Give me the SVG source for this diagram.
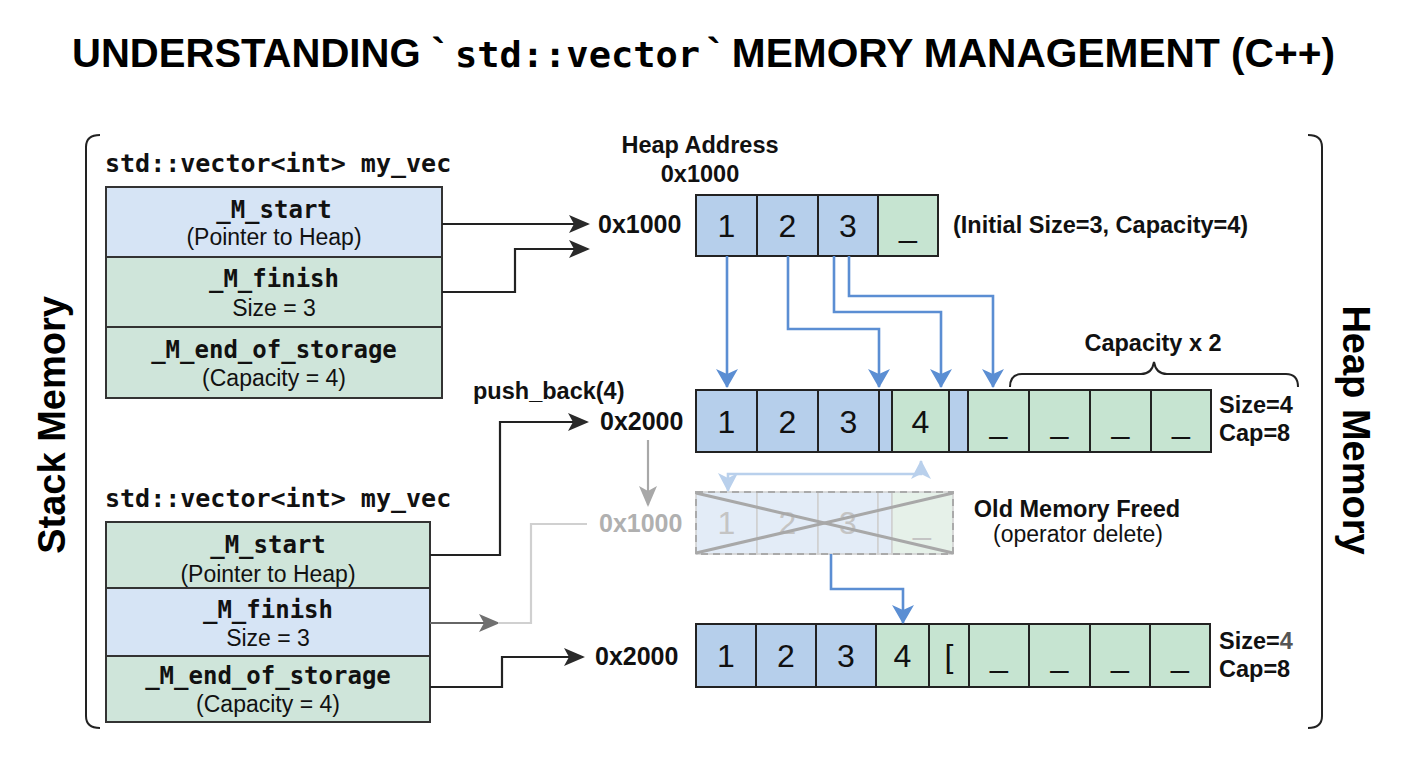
<svg xmlns="http://www.w3.org/2000/svg" width="1408" height="768" viewBox="0 0 1408 768">
<defs>
<style>
.sans{font-family:"Liberation Sans",Arial,sans-serif}
.b{font-family:"Liberation Sans",Arial,sans-serif;font-weight:bold}
.mono{font-family:"DejaVu Sans Mono","Liberation Mono",monospace;font-weight:bold}
.lbl{font-family:"Liberation Sans",Arial,sans-serif;font-weight:bold;font-size:23.5px;fill:#111}
.addr{font-family:"Liberation Sans",Arial,sans-serif;font-weight:bold;font-size:25px;fill:#111}
.fld{font-family:"DejaVu Sans Mono","Liberation Mono",monospace;font-weight:bold;font-size:24px;fill:#111;text-anchor:middle}
.sub{font-family:"Liberation Sans",Arial,sans-serif;font-size:23px;fill:#111;text-anchor:middle}
.num{font-family:"Liberation Sans",Arial,sans-serif;font-size:32px;fill:#111;text-anchor:middle}
.sblue{fill:#d6e4f5;stroke:#333;stroke-width:2}
.sgreen{fill:#cfe5da;stroke:#333;stroke-width:2}
.cb{fill:#b6cfeb;stroke:#222;stroke-width:2}
.cg{fill:#c6e4d1;stroke:#222;stroke-width:2}
.ob{fill:#e3ecf7;stroke:#d0d0d0;stroke-width:1.5}
.og{fill:#e6f1e9;stroke:#d0d0d0;stroke-width:1.5}
.blk{fill:none;stroke:#222;stroke-width:2.2}
.blue{fill:none;stroke:#5b8ed3;stroke-width:2.6}
</style>
<marker id="ahBlack" markerUnits="userSpaceOnUse" markerWidth="22" markerHeight="18" refX="19" refY="9" orient="auto"><path d="M0,0 L21,9 L0,18 L5,9 z" fill="#2a2a2a"/></marker>
<marker id="ahGray" markerUnits="userSpaceOnUse" markerWidth="22" markerHeight="18" refX="19" refY="9" orient="auto"><path d="M0,0 L21,9 L0,18 L5,9 z" fill="#707070"/></marker>
<marker id="ahLGray" markerUnits="userSpaceOnUse" markerWidth="22" markerHeight="18" refX="19" refY="9" orient="auto"><path d="M0,0 L21,9 L0,18 L5,9 z" fill="#a8a8a8"/></marker>
<marker id="ahBlue" markerUnits="userSpaceOnUse" markerWidth="20" markerHeight="22" refX="18" refY="11" orient="auto"><path d="M0,0 L19,11 L0,22 L5,11 z" fill="#5b8ed3"/></marker>
<marker id="ahLBlue" markerUnits="userSpaceOnUse" markerWidth="20" markerHeight="20" refX="18" refY="10" orient="auto-start-reverse"><path d="M0,0 L19,10 L0,20 L5,10 z" fill="#b9d0ec"/></marker>
</defs>
<rect width="1408" height="768" fill="#ffffff"/>

<g id="title">
<text class="b" x="72" y="67" font-size="40" textLength="373" lengthAdjust="spacingAndGlyphs" fill="#000">UNDERSTANDING `</text>
<text font-family="'DejaVu Sans Mono','Liberation Mono',monospace" font-weight="bold" x="455" y="67" font-size="36" textLength="245" lengthAdjust="spacingAndGlyphs" fill="#000">std::vector</text>
<text class="b" x="707" y="67" font-size="40" textLength="628" lengthAdjust="spacingAndGlyphs" fill="#000">` MEMORY MANAGEMENT (C++)</text>
</g>

<g id="stack-region">
<path d="M100,135 Q86,135 86,147 L86,716 Q86,728 100,728" fill="none" stroke="#222" stroke-width="2"/>
<text class="b" font-size="38" text-anchor="middle" transform="translate(65,425) rotate(-90)" fill="#000">Stack Memory</text>
</g>
<g id="heap-region">
<path d="M1308,135 Q1322,135 1322,147 L1322,716 Q1322,728 1308,728" fill="none" stroke="#222" stroke-width="2"/>
<text class="b" font-size="38" text-anchor="middle" transform="translate(1343,430) rotate(90)" fill="#000">Heap Memory</text>
</g>

<g id="vec-before">
<text class="mono" x="105" y="172" font-size="25" fill="#111">std::vector&lt;int&gt; my_vec</text>
<rect class="sblue" x="106" y="187" width="336" height="70"/>
<rect class="sgreen" x="106" y="257" width="336" height="70"/>
<rect class="sgreen" x="106" y="327" width="336" height="71"/>
<text class="fld" x="274" y="218">_M_start</text>
<text class="sub" x="274" y="245">(Pointer to Heap)</text>
<text class="fld" x="274" y="287">_M_finish</text>
<text class="sub" x="274" y="316">Size = 3</text>
<text class="fld" x="274" y="358">_M_end_of_storage</text>
<text class="sub" x="274" y="386">(Capacity = 4)</text>
</g>

<g id="vec-after">
<text class="mono" x="105" y="507" font-size="25" fill="#111">std::vector&lt;int&gt; my_vec</text>
<rect class="sgreen" x="106" y="522" width="324" height="66"/>
<rect class="sblue" x="106" y="588" width="324" height="68"/>
<rect class="sgreen" x="106" y="656" width="324" height="66"/>
<text class="fld" x="268" y="553">_M_start</text>
<text class="sub" x="268" y="582">(Pointer to Heap)</text>
<text class="fld" x="268" y="618">_M_finish</text>
<text class="sub" x="268" y="646">Size = 3</text>
<text class="fld" x="268" y="684">_M_end_of_storage</text>
<text class="sub" x="268" y="712">(Capacity = 4)</text>
</g>

<g id="heap-old-initial">
<text class="lbl" x="700" y="153" text-anchor="middle">Heap Address</text>
<text class="lbl" x="700" y="182" text-anchor="middle">0x1000</text>
<text class="addr" x="598" y="233">0x1000</text>
<rect class="cb" x="696" y="195" width="61" height="61"/>
<rect class="cb" x="757" y="195" width="61" height="61"/>
<rect class="cb" x="818" y="195" width="60" height="61"/>
<rect class="cg" x="878" y="195" width="60" height="61"/>
<text class="num" x="726.5" y="237">1</text>
<text class="num" x="787.5" y="237">2</text>
<text class="num" x="848" y="237">3</text>
<text class="num" x="908" y="237">_</text>
<text class="lbl" x="953" y="233">(Initial Size=3, Capacity=4)</text>
</g>

<g id="heap-new">
<text class="lbl" x="473" y="399">push_back(4)</text>
<text class="addr" x="600" y="430">0x2000</text>
<rect class="cb" x="696" y="390" width="61" height="62"/>
<rect class="cb" x="757" y="390" width="61" height="62"/>
<rect class="cb" x="818" y="390" width="61" height="62"/>
<rect class="cb" x="879" y="390" width="13" height="62"/>
<rect class="cg" x="892" y="390" width="57" height="62"/>
<rect class="cb" x="949" y="390" width="19" height="62"/>
<rect class="cg" x="968" y="390" width="61" height="62"/>
<rect class="cg" x="1029" y="390" width="61" height="62"/>
<rect class="cg" x="1090" y="390" width="61" height="62"/>
<rect class="cg" x="1151" y="390" width="60" height="62"/>
<text class="num" x="726.5" y="432.5">1</text>
<text class="num" x="787.5" y="432.5">2</text>
<text class="num" x="848.5" y="432.5">3</text>
<text class="num" x="920.5" y="432.5">4</text>
<text class="num" x="998.5" y="432.5">_</text>
<text class="num" x="1059.5" y="432.5">_</text>
<text class="num" x="1120.5" y="432.5">_</text>
<text class="num" x="1181" y="432.5">_</text>
<path d="M1010,387 Q1010,374 1022,374 L1141,374 Q1152,374 1154,362 Q1156,374 1167,374 L1286,374 Q1298,374 1298,387" fill="none" stroke="#222" stroke-width="2"/>
<text class="lbl" x="1153" y="351" text-anchor="middle">Capacity x 2</text>
<text class="lbl" x="1219" y="413" font-size="22.5">Size=4</text>
<text class="lbl" x="1219" y="441" font-size="22.5">Cap=8</text>
</g>

<g id="heap-freed">
<text class="addr" x="599" y="532" style="fill:#b0b0b0">0x1000</text>
<rect class="ob" x="696" y="492" width="61" height="62"/>
<rect class="ob" x="757" y="492" width="61" height="62"/>
<rect class="ob" x="818" y="492" width="60" height="62"/>
<rect class="ob" x="878" y="492" width="14" height="62"/>
<rect class="og" x="892" y="492" width="61" height="62"/>
<rect x="696" y="492" width="257" height="62" fill="none" stroke="#aaaaaa" stroke-width="2" stroke-dasharray="7,5"/>
<text class="num" x="726.5" y="534" style="fill:#c4c4c4">1</text>
<text class="num" x="787.5" y="534" style="fill:#c4c4c4">2</text>
<text class="num" x="848" y="534" style="fill:#c4c4c4">3</text>
<text class="num" x="922" y="534" style="fill:#c4c4c4">_</text>
<line x1="696" y1="493" x2="953" y2="553" stroke="#a8a8a8" stroke-width="3"/>
<line x1="696" y1="553" x2="953" y2="493" stroke="#a8a8a8" stroke-width="3"/>
<text class="lbl" x="1077" y="517" text-anchor="middle" font-size="22">Old Memory Freed</text>
<text class="sub" x="1078" y="542" font-size="23">(operator delete)</text>
</g>

<g id="heap-final">
<text class="addr" x="595" y="665">0x2000</text>
<rect class="cb" x="696" y="624" width="60" height="63"/>
<rect class="cb" x="756" y="624" width="60" height="63"/>
<rect class="cb" x="816" y="624" width="60" height="63"/>
<rect class="cg" x="876" y="624" width="53" height="63"/>
<rect class="cg" x="929" y="624" width="40" height="63"/>
<rect class="cg" x="969" y="624" width="60" height="63"/>
<rect class="cg" x="1029" y="624" width="61" height="63"/>
<rect class="cg" x="1090" y="624" width="60" height="63"/>
<rect class="cg" x="1150" y="624" width="60" height="63"/>
<text class="num" x="726" y="667">1</text>
<text class="num" x="786" y="667">2</text>
<text class="num" x="846" y="667">3</text>
<text class="num" x="902.5" y="667">4</text>
<text class="num" x="949" y="667">[</text>
<text class="num" x="999" y="667">_</text>
<text class="num" x="1059.5" y="667">_</text>
<text class="num" x="1120" y="667">_</text>
<text class="num" x="1180" y="667">_</text>
<text class="lbl" x="1219" y="649" font-size="22.5">Size=<tspan fill="#555">4</tspan></text>
<text class="lbl" x="1219" y="677" font-size="22.5">Cap=8</text>
</g>

<g id="connectors">
<path class="blk" d="M442,224 L588,224" marker-end="url(#ahBlack)"/>
<path class="blk" d="M442,292 L515,292 L515,249 L588,249" marker-end="url(#ahBlack)"/>
<path class="blk" d="M430,555 L500,555 L500,422 L587,422" marker-end="url(#ahBlack)"/>
<path d="M430,623 L498,623" fill="none" stroke="#666" stroke-width="2.2" marker-end="url(#ahGray)"/>
<path d="M498,623 L531,623 L531,524 L587,524" fill="none" stroke="#d0d0d0" stroke-width="2.2"/>
<path class="blk" d="M430,687 L502,687 L502,657 L583,657" marker-end="url(#ahBlack)"/>
<path class="blue" d="M727,256 L727,387" marker-end="url(#ahBlue)"/>
<path class="blue" d="M788,256 L788,329 L879,329 L879,387" marker-end="url(#ahBlue)"/>
<path class="blue" d="M834,256 L834,312 L941,312 L941,387" marker-end="url(#ahBlue)"/>
<path class="blue" d="M849,256 L849,296 L993,296 L993,387" marker-end="url(#ahBlue)"/>
<path d="M648,440 L648,505" fill="none" stroke="#a8a8a8" stroke-width="2.2" marker-end="url(#ahLGray)"/>
<path d="M921,461 L921,474 L728,474 L728,491" fill="none" stroke="#b9d0ec" stroke-width="2.6" marker-start="url(#ahLBlue)" marker-end="url(#ahLBlue)"/>
<path class="blue" d="M831,554 L831,589 L903,589 L903,623" marker-end="url(#ahBlue)"/>
</g>
</svg>
